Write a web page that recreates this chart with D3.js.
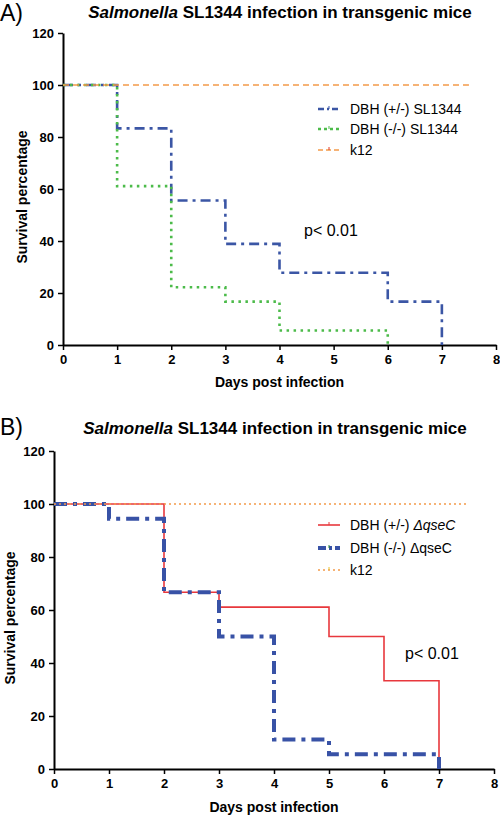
<!DOCTYPE html>
<html><head><meta charset="utf-8">
<script src="https://cdn.jsdelivr.net/npm/d3@7"></script>
<style>body{margin:0;background:#fff}svg{display:block}text{font-family:"Liberation Sans",Arial,sans-serif}</style>
</head><body><svg id="c" width="500" height="815"></svg>
<script>
const days = [0,1,2,3,4,5,6,7,8];
const yTicks = [0,20,40,60,80,100,120];
// Panel A series: [day, survival %]
const aHet = [[0,100],[1,83.3],[2,55.6],[3,38.9],[4,27.8],[6,16.7],[7,0]];
const aKo  = [[0,100],[1,61.1],[2,22.2],[3,16.7],[4,5.6],[6,0]];
const aK12 = [[0,100],[7.5,100]];
// Panel B series
const bHet = [[0,100],[2,66.7],[3,61.1],[5,50],[6,33.3],[7,0]];
const bKo  = [[0,100],[1,94.4],[2,66.7],[3,50],[4,11.1],[5,5.6],[7,0]];
const bK12 = [[0,100],[7.5,100]];
const legendA = ["DBH (+/-) SL1344","DBH (-/-) SL1344","k12"];
const legendB = ["DBH (+/-) ","DBH (-/-) ΔqseC","k12"];

const svg = d3.select("#c");

function panel(cfg){
  const g = svg.append("g");
  const x = d3.scaleLinear().domain([0,8]).range([cfg.x0,cfg.x1]);
  const y = d3.scaleLinear().domain([0,120]).range([cfg.y0,cfg.y1]);
  g.append("text").attr("x",0).attr("y",cfg.letterY).attr("font-size",23).text(cfg.letter);
  const t = g.append("text").attr("x",cfg.titleX).attr("y",cfg.titleY).attr("text-anchor","middle")
    .attr("font-size",17).attr("font-weight","bold");
  t.append("tspan").attr("font-style","italic").text("Salmonella");
  t.append("tspan").text(" SL1344 infection in transgenic mice");
  const xa = g.append("g").attr("transform",`translate(0,${cfg.y0})`)
    .call(d3.axisBottom(x).tickValues(days).tickFormat(d3.format("d")).tickSize(5).tickSizeOuter(0));
  const ya = g.append("g").attr("transform",`translate(${cfg.x0},0)`)
    .call(d3.axisLeft(y).tickValues(yTicks).tickSize(5).tickSizeOuter(0));
  [xa,ya].forEach(a=>{
    a.select(".domain").attr("stroke","#000").attr("stroke-width",2);
    a.selectAll(".tick line").attr("stroke","#000").attr("stroke-width",1.5);
    a.selectAll(".tick text").attr("font-size",13).attr("font-weight","bold").attr("fill","#000")
      .attr("font-family","'Liberation Sans',Arial,sans-serif");
  });
  xa.selectAll(".tick text").attr("dy","0.85em");
  ya.selectAll(".tick text").attr("dx","-1");
  g.append("text").attr("x",(cfg.x0+cfg.x1)/2).attr("y",cfg.xTitleY).attr("text-anchor","middle")
    .attr("font-size",14).attr("font-weight","bold").text("Days post infection");
  g.append("text").attr("transform",`translate(${cfg.yTitleX},${(cfg.y0+cfg.y1)/2+8}) rotate(-90)`)
    .attr("text-anchor","middle").attr("font-size",14).attr("font-weight","bold").text("Survival percentage");
  const line = d3.line().x(d=>x(d[0])).y(d=>y(d[1])).curve(d3.curveStepAfter);
  cfg.series.forEach(s=>{
    g.append("path").datum(s.data).attr("d",line).attr("fill","none").attr("stroke",s.color)
      .attr("stroke-width",s.w).attr("stroke-dasharray",s.dash||null);
  });
  cfg.series.forEach((s,i)=>{
    const ly = cfg.legY[i];
    g.append("line").attr("x1",cfg.legX).attr("x2",cfg.legX+22).attr("y1",ly).attr("y2",ly)
      .attr("stroke",s.color).attr("stroke-width",s.lw||s.w).attr("stroke-dasharray",s.ldash||s.dash||null);
    g.append("line").attr("x1",cfg.legX+11).attr("x2",cfg.legX+11).attr("y1",ly-3).attr("y2",ly)
      .attr("stroke",s.tick).attr("stroke-width",1);
    const tt = g.append("text").attr("x",cfg.legX+32).attr("y",ly+5).attr("font-size",14);
    tt.append("tspan").text(s.label);
    if(s.italic) tt.append("tspan").attr("font-style","italic").text(s.italic);
  });
  g.append("text").attr("x",cfg.pX).attr("y",cfg.pY).attr("font-size",16).text("p< 0.01");
}

panel({letter:"A)",letterY:21,titleX:280,titleY:18,x0:63,x1:496,y0:345,y1:33,xTitleY:387,yTitleX:27,
  legX:318,legY:[109,129,150],pX:304,pY:236,
  series:[
    {data:aHet,color:"#3b56a5",w:2.6,dash:"10,5,3,5",ldash:"6,3,2,3",label:legendA[0],tick:"#3b56a5"},
    {data:aKo,color:"#4cbb4a",w:2.6,dash:"2.5,4.5",ldash:"3,3",label:legendA[1],tick:"#4cbb4a"},
    {data:aK12,color:"#f39a4a",w:1.6,dash:"6,4",ldash:"5,3",label:legendA[2],tick:"#e03a2a"}
  ]});

panel({letter:"B)",letterY:435,titleX:275,titleY:434,x0:54,x1:494,y0:769,y1:451,xTitleY:812,yTitleX:15,
  legX:318,legY:[525,548,570],pX:405,pY:659,
  series:[
    {data:bHet,color:"#e8383d",w:1.6,label:legendB[0],italic:"ΔqseC",tick:"#e8383d"},
    {data:bKo,color:"#3852a6",w:4,dash:"13,6,4,6",ldash:"8,3,3,3",label:legendB[1],tick:"#2a8a3a"},
    {data:bK12,color:"#f39a4a",w:1.5,dash:"2,3",label:legendB[2],tick:"#e6c030"}
  ]});
</script></body></html>
